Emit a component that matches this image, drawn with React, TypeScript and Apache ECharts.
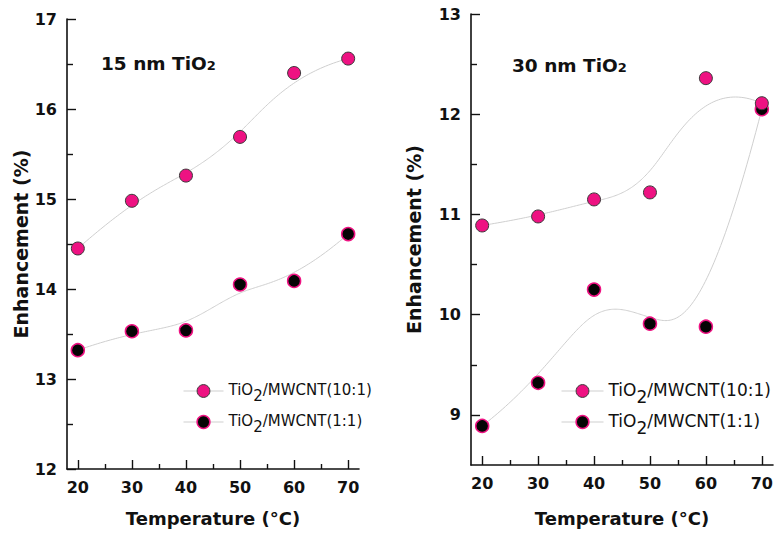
import React, { useEffect, useRef } from "react";
import * as echarts from "echarts";

// Temperatures (°C) and measured enhancement (%) for each hybrid ratio
const temperatures = [20, 30, 40, 50, 60, 70];

const nm15Ratio10to1 = [14.45, 14.98, 15.26, 15.69, 16.4, 16.56];
const nm15Ratio1to1 = [13.32, 13.53, 13.54, 14.05, 14.09, 14.61];
const nm30Ratio10to1 = [10.89, 10.98, 11.15, 11.22, 12.36, 12.11];
const nm30Ratio1to1 = [8.89, 9.32, 10.25, 9.91, 9.88, 12.05];

// Tick positions
const xMajorTicks = [20, 30, 40, 50, 60, 70];
const xMinorTicks = [25, 35, 45, 55, 65];
const leftYMajorTicks = [12, 13, 14, 15, 16, 17];
const leftYMinorTicks = [12.5, 13.5, 14.5, 15.5, 16.5];
const rightYMajorTicks = [9, 10, 11, 12, 13];
const rightYMinorTicks = [9.5, 10.5, 11.5, 12.5];

const NAME_10 = "TiO2/MWCNT(10:1)";
const NAME_1 = "TiO2/MWCNT(1:1)";

const FONT = "DejaVu Sans";
const PINK = "#ee1282";
const INK = "#111111";
const CURVE = "#cfcfcf";

const pinkMarker = { color: PINK, borderColor: "#3a3a3a", borderWidth: 1 };
const blackMarker = { color: "#050505", borderColor: PINK, borderWidth: 1.5 };

// Clamped cubic B-spline that uses the measured points as control points
function bSpline(xs: number[], ys: number[], samples: number): number[][] {
  const n = xs.length;
  const p = 3;
  const last = n - p;
  const knots: number[] = [];
  for (let i = 0; i < n + p + 1; i++) knots.push(Math.min(Math.max(i - p, 0), last));
  const out: number[][] = [];
  for (let s = 0; s <= samples; s++) {
    const t = (s / samples) * last;
    let k = p;
    while (k < n - 1 && t >= knots[k + 1]) k++;
    const dx: number[] = [];
    const dy: number[] = [];
    for (let j = 0; j <= p; j++) {
      dx.push(xs[j + k - p]);
      dy.push(ys[j + k - p]);
    }
    for (let r = 1; r <= p; r++) {
      for (let j = p; j >= r; j--) {
        const lo = knots[j + k - p];
        const hi = knots[j + 1 + k - r];
        const a = hi === lo ? 0 : (t - lo) / (hi - lo);
        dx[j] = (1 - a) * dx[j - 1] + a * dx[j];
        dy[j] = (1 - a) * dy[j - 1] + a * dy[j];
      }
    }
    out.push([dx[p], dy[p]]);
  }
  return out;
}

const pairs = (ys: number[]) => temperatures.map((t, i) => [t, ys[i]]);

function legendFormatter(name: string) {
  return "{a|TiO}{s|2}{a|" + name.slice(4) + "}";
}

function legendRich(size: number) {
  return {
    a: { fontFamily: FONT, fontSize: size, color: INK, verticalAlign: "top", lineHeight: size + 3 },
    s: {
      fontFamily: FONT,
      fontSize: size,
      color: INK,
      verticalAlign: "top",
      lineHeight: size + 3,
      padding: [Math.round(size * 0.4), 0, 0, 0],
    },
  };
}

function legendItems() {
  return [
    { name: NAME_10, itemStyle: pinkMarker, lineStyle: { color: CURVE, width: 1, opacity: 1 } },
    { name: NAME_1, itemStyle: blackMarker, lineStyle: { color: CURVE, width: 1, opacity: 1 } },
  ];
}

const titleRich = {
  a: { fontFamily: FONT, fontSize: 18.5, fontWeight: "bold", color: INK, verticalAlign: "top", lineHeight: 22 },
  s: {
    fontFamily: FONT,
    fontSize: 13,
    fontWeight: "bold",
    color: INK,
    verticalAlign: "top",
    lineHeight: 22,
    padding: [5, 0, 0, 0],
  },
};

function mainXAxis(gridIndex: number, nameGap: number) {
  return {
    type: "value",
    gridIndex,
    min: 18,
    max: 72,
    name: "Temperature (°C)",
    nameLocation: "middle",
    nameGap,
    nameTextStyle: { fontFamily: FONT, fontSize: 18, fontWeight: "bold", color: INK },
    axisLine: { show: true, onZero: false, lineStyle: { color: INK, width: 1.6 } },
    axisTick: { show: true, inside: true, length: 9, customValues: xMajorTicks, lineStyle: { color: INK, width: 1.4 } },
    axisLabel: {
      customValues: xMajorTicks,
      margin: 10,
      fontFamily: FONT,
      fontSize: 16,
      fontWeight: "bold",
      color: INK,
    },
    splitLine: { show: false },
  };
}

function minorXAxis(gridIndex: number) {
  return {
    type: "value",
    gridIndex,
    min: 18,
    max: 72,
    position: "bottom",
    axisLine: { show: false, onZero: false },
    axisTick: { show: true, inside: true, length: 5, customValues: xMinorTicks, lineStyle: { color: INK, width: 1.4 } },
    axisLabel: { show: false },
    splitLine: { show: false },
  };
}

function mainYAxis(gridIndex: number, min: number, max: number, ticks: number[], nameGap: number) {
  return {
    type: "value",
    gridIndex,
    min,
    max,
    position: "left",
    name: "Enhancement (%)",
    nameLocation: "middle",
    nameGap,
    nameTextStyle: { fontFamily: FONT, fontSize: 19, fontWeight: "bold", color: INK },
    axisLine: { show: true, onZero: false, lineStyle: { color: INK, width: 1.6 } },
    axisTick: { show: true, inside: true, length: 9, customValues: ticks, lineStyle: { color: INK, width: 1.4 } },
    axisLabel: {
      customValues: ticks,
      margin: 10,
      fontFamily: FONT,
      fontSize: 16,
      fontWeight: "bold",
      color: INK,
    },
    splitLine: { show: false },
  };
}

function minorYAxis(gridIndex: number, min: number, max: number, ticks: number[]) {
  return {
    type: "value",
    gridIndex,
    min,
    max,
    position: "left",
    axisLine: { show: false, onZero: false },
    axisTick: { show: true, inside: true, length: 6, customValues: ticks, lineStyle: { color: INK, width: 1.4 } },
    axisLabel: { show: false },
    splitLine: { show: false },
  };
}

function pointSeries(name: string, ys: number[], axisIndex: number, pink: boolean, z: number) {
  return {
    type: "line",
    name,
    xAxisIndex: axisIndex,
    yAxisIndex: axisIndex,
    data: pairs(ys),
    symbol: "circle",
    symbolSize: 13,
    showSymbol: true,
    lineStyle: { width: 0, opacity: 0 },
    itemStyle: pink ? pinkMarker : blackMarker,
    z,
    silent: true,
  };
}

function curveSeries(id: string, ys: number[], axisIndex: number) {
  return {
    type: "line",
    name: id,
    xAxisIndex: axisIndex,
    yAxisIndex: axisIndex,
    data: bSpline(temperatures, ys, 160),
    showSymbol: false,
    symbol: "none",
    lineStyle: { color: CURVE, width: 1 },
    z: 1,
    silent: true,
  };
}

export default function App() {
  const ref = useRef<HTMLDivElement>(null);

  useEffect(() => {
    if (!ref.current) return;
    const chart = echarts.init(ref.current, undefined, { renderer: "svg" });
    chart.setOption({
      animation: false,
      backgroundColor: "#ffffff",
      title: [
        { text: "{a|15 nm TiO}{s|2}", left: 101, top: 54, padding: 0, textStyle: { rich: titleRich } },
        { text: "{a|30 nm TiO}{s|2}", left: 512, top: 56, padding: 0, textStyle: { rich: titleRich } },
      ],
      grid: [
        { left: 67, top: 19, width: 292, height: 450 },
        { left: 471, top: 14, width: 302, height: 451 },
      ],
      xAxis: [mainXAxis(0, 40), mainXAxis(1, 44), minorXAxis(0), minorXAxis(1)],
      yAxis: [
        mainYAxis(0, 12, 17, leftYMajorTicks, 37),
        mainYAxis(1, 8.5, 13, rightYMajorTicks, 48),
        minorYAxis(0, 12, 17, leftYMinorTicks),
        minorYAxis(1, 8.5, 13, rightYMinorTicks),
      ],
      legend: [
        {
          data: legendItems(),
          orient: "vertical",
          left: 178,
          top: 377,
          itemWidth: 40,
          itemHeight: 16,
          itemGap: 10,
          formatter: legendFormatter,
          textStyle: { rich: legendRich(15) },
          selectedMode: false,
        },
        {
          data: legendItems(),
          orient: "vertical",
          left: 556,
          top: 376,
          itemWidth: 42,
          itemHeight: 16,
          itemGap: 7,
          formatter: legendFormatter,
          textStyle: { rich: legendRich(17) },
          selectedMode: false,
        },
      ],
      series: [
        curveSeries("fit 15nm 10:1", nm15Ratio10to1, 0),
        curveSeries("fit 15nm 1:1", nm15Ratio1to1, 0),
        curveSeries("fit 30nm 10:1", nm30Ratio10to1, 1),
        curveSeries("fit 30nm 1:1", nm30Ratio1to1, 1),
        pointSeries(NAME_10, nm15Ratio10to1, 0, true, 4),
        pointSeries(NAME_1, nm15Ratio1to1, 0, false, 3),
        pointSeries(NAME_10, nm30Ratio10to1, 1, true, 4),
        pointSeries(NAME_1, nm30Ratio1to1, 1, false, 3),
      ],
    });
    return () => chart.dispose();
  }, []);

  return (
    <div
      ref={ref}
      style={{ position: "fixed", left: 0, top: 0, width: 777, height: 543, background: "#fff" }}
    />
  );
}
